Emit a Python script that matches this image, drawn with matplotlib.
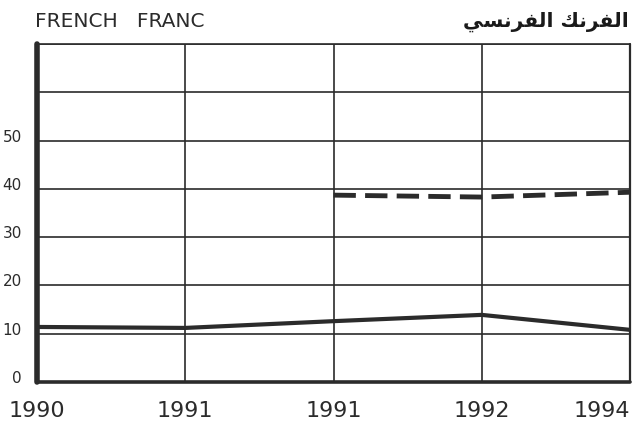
import matplotlib
matplotlib.use("Agg")
import matplotlib.pyplot as plt

# ---- data ----
x_labels = ["1990", "1991", "1991", "1992", "1994"]
y_tick_values = [0, 10, 20, 30, 40, 50]
y_tick_labels = ["0", "10", "20", "30", "40", "50"]
solid_values = [11.4, 11.2, 12.6, 13.9, 10.8]
dashed_x = [2, 3, 4]
dashed_values = [38.7, 38.3, 39.3]
title_en = "FRENCH   FRANC"
# Arabic "الفرنك الفرنسي" in presentation forms, visual order
title_ar = "\uFEF2\uFEB4\uFEE7\uFEAE\uFED4\uFEDF\uFE8D \uFEDA\uFEE7\uFEAE\uFED4\uFEDF\uFE8D"

ink = "#2b2b2b"

fig = plt.figure(figsize=(6.35, 4.31), dpi=100)
ax = fig.add_axes([37/635, 1-383/431, (630-37)/635, (383-45)/431])

xs = list(range(len(x_labels)))
ax.plot(xs, solid_values, color=ink, lw=3.0, solid_capstyle="butt", zorder=3)
ax.plot(dashed_x, dashed_values, color=ink, lw=3.5, dashes=(4.6, 1.9), zorder=3)

ax.set_xlim(0, 4)
ax.set_ylim(0, 70)
ax.set_xticks(xs)
ax.set_xticklabels(x_labels, fontsize=16, color=ink)
ax.set_yticks(y_tick_values + [60, 70])
ax.set_yticklabels(y_tick_labels + ["", ""], fontsize=11, color=ink, va="baseline")
ax.tick_params(axis="both", length=0)
ax.tick_params(axis="y", pad=11)
ax.tick_params(axis="x", pad=13)
xl = ax.get_xticklabels()
xl[-1].set_ha("right")

ax.grid(True, color=ink, lw=1.2)
ax.set_axisbelow(True)
for s, w in [("left", 4.0), ("bottom", 2.6), ("top", 1.2), ("right", 1.6)]:
    ax.spines[s].set_linewidth(w)
    ax.spines[s].set_color(ink)
    ax.spines[s].set_capstyle("round")

fig.text(35/635, 1-27/431, title_en, fontsize=14.5, color=ink, ha="left", va="baseline")
fig.text(629/635, 1-27/431, title_ar, fontsize=14.5, color="#1a1a1a", ha="right",
         va="baseline", fontweight="bold", family=["DejaVu Sans"])

fig.savefig("out.png", dpi=100, facecolor="white")
